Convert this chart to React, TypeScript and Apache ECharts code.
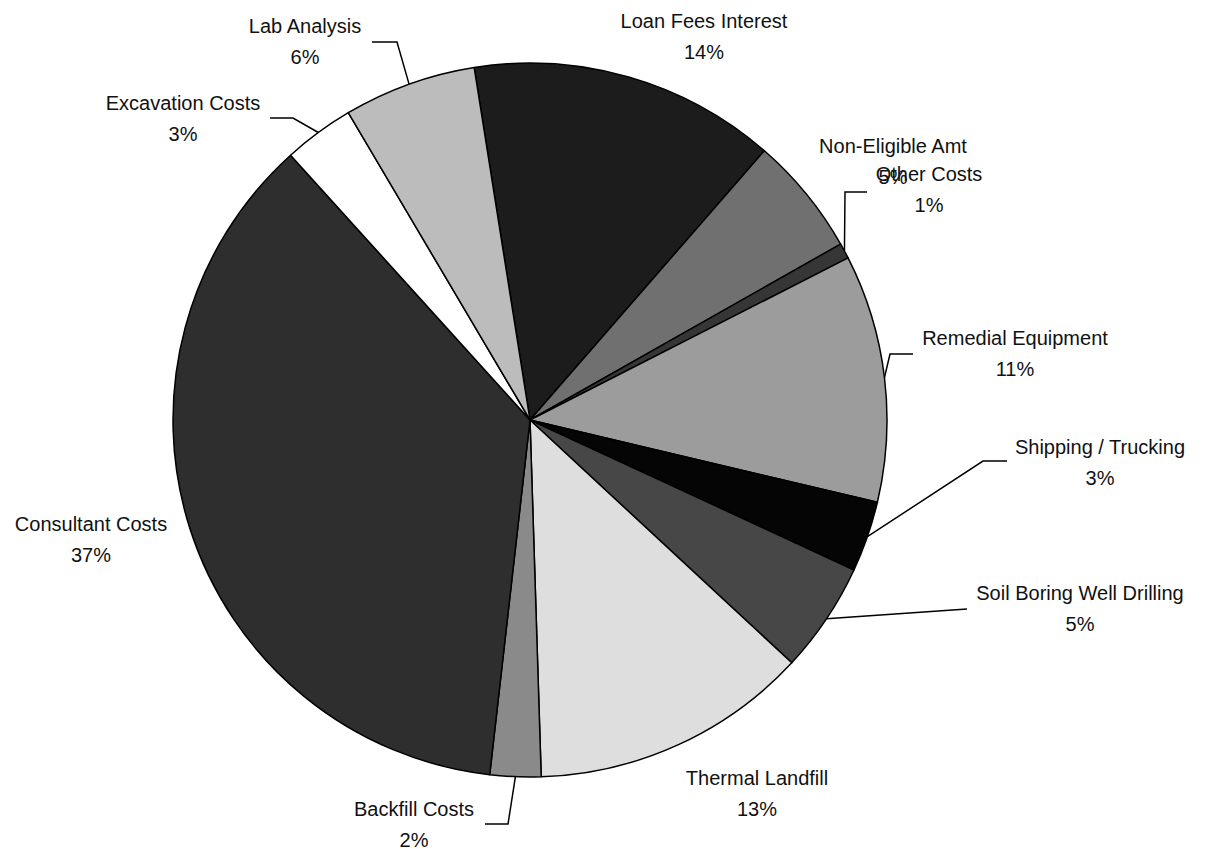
import React, { useEffect, useRef } from "react";
import * as echarts from "echarts";

// Cost categories, clockwise from the top of the pie
const categories: string[] = [
  "Loan Fees Interest",
  "Non-Eligible Amt",
  "Other Costs",
  "Remedial Equipment",
  "Shipping / Trucking",
  "Soil Boring Well Drilling",
  "Thermal Landfill",
  "Backfill Costs",
  "Consultant Costs",
  "Excavation Costs",
  "Lab Analysis",
];

// Share of total cost (%), estimated from slice angles and labels
const shares: number[] = [13.9, 5.4, 0.7, 11.2, 3.2, 5.0, 12.6, 2.3, 36.5, 3.2, 6.0];

// Grey fill of each slice
const fills: string[] = [
  "#1c1c1c",
  "#707070",
  "#363636",
  "#9c9c9c",
  "#050505",
  "#474747",
  "#dedede",
  "#8a8a8a",
  "#2e2e2e",
  "#ffffff",
  "#bcbcbc",
];

// Label placement (layout only): centre of label block, and leader line bends
type LabelPlace = { x: number; y: number; line?: number[][] };
const labelPlaces: LabelPlace[] = [
  { x: 704, y: 36 },
  { x: 893, y: 161 },
  { x: 929, y: 189, line: [[845, 192], [867, 192]] },
  { x: 1015, y: 353, line: [[890, 354], [913, 354]] },
  { x: 1100, y: 462, line: [[983, 461], [1007, 461]] },
  { x: 1080, y: 608, line: [[967, 609], [967, 609]] },
  { x: 757, y: 793 },
  { x: 414, y: 824, line: [[508, 824], [485, 824]] },
  { x: 91, y: 539 },
  { x: 183, y: 118, line: [[293, 118], [270, 118]] },
  { x: 305, y: 41, line: [[397, 42], [372, 42]] },
];

export default function App() {
  const ref = useRef<HTMLDivElement>(null);

  useEffect(() => {
    if (!ref.current) return;
    const chart = echarts.init(ref.current, undefined, { renderer: "svg" });

    const data = categories.map((name, i) => ({
      name,
      value: shares[i],
      itemStyle: { color: fills[i] },
      labelLine: { show: !!labelPlaces[i].line },
    }));

    chart.setOption({
      animation: false,
      backgroundColor: "#ffffff",
      series: [
        {
          type: "pie",
          center: [530, 420],
          radius: 357,
          startAngle: 99,
          clockwise: true,
          percentPrecision: 0,
          avoidLabelOverlap: false,
          data,
          itemStyle: { borderColor: "#000000", borderWidth: 1.5 },
          label: {
            show: true,
            position: "outside",
            formatter: "{b}\n{d}%",
            color: "#111111",
            fontFamily: "'Liberation Sans', Arial, sans-serif",
            fontSize: 20,
            lineHeight: 31,
            align: "center",
          },
          labelLine: {
            show: true,
            length: 20,
            length2: 20,
            lineStyle: { color: "#000000", width: 1.5 },
          },
          labelLayout: (params: any) => {
            const p = labelPlaces[params.dataIndex];
            const out: any = {
              x: p.x,
              y: p.y,
              align: "center",
              verticalAlign: "middle",
            };
            if (p.line && params.labelLinePoints && params.labelLinePoints[0]) {
              out.labelLinePoints = [params.labelLinePoints[0], p.line[0], p.line[1]];
            }
            return out;
          },
        },
      ],
    });

    return () => chart.dispose();
  }, []);

  return (
    <div
      ref={ref}
      style={{ position: "fixed", left: 0, top: 0, width: 1206, height: 849 }}
    />
  );
}
